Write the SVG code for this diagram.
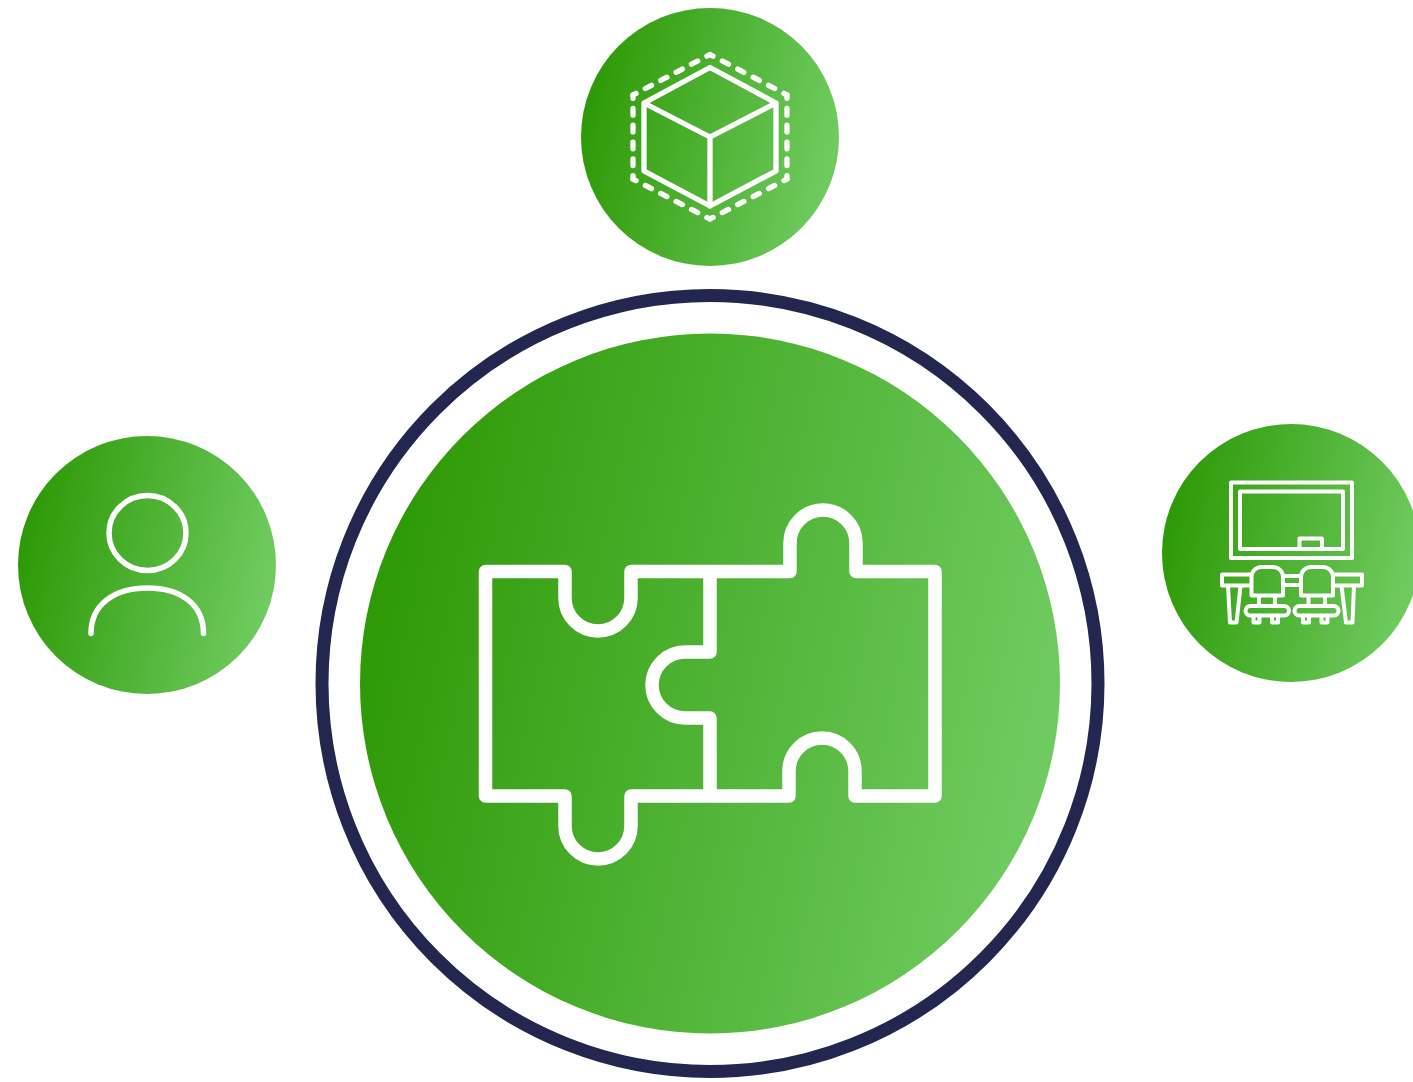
<svg xmlns="http://www.w3.org/2000/svg" width="1413" height="1082" viewBox="0 0 1413 1082">
<defs>
<linearGradient id="g" x1="0.03" y1="0.4" x2="0.97" y2="0.6"><stop offset="0" stop-color="#2f9a08"/><stop offset="1" stop-color="#6fcb60"/></linearGradient>
</defs>
<style>
.disc{fill:url(#g)}
.ic{fill:none;stroke:#fff;stroke-linejoin:round;stroke-linecap:round}
.dash{stroke-dasharray:4 6;stroke-dashoffset:2}
</style>
<rect width="1413" height="1082" fill="#fff"/>
<g id="center-node">
<circle cx="710" cy="683.500" r="388" fill="none" stroke="#23264f" stroke-width="13"/>
<circle class="disc" cx="710" cy="683.500" r="350"/>
<g class="ic" stroke-width="13.500">
<path d="M485.500 571.500H565V598a33 33 0 0 0 66 0V571.500H790V543a33 33 0 0 1 66 0V571.500H935V796H855V771a33 33 0 0 0-66 0V796H631V826a33 33 0 0 1-66 0V796H485.500Z"/>
<path d="M710 571.500V652H685a33 33 0 0 0 0 66H710V796" stroke-linecap="butt"/>
</g>
</g>
<g id="cube-node">
<circle class="disc" cx="710" cy="137" r="129"/>
<g class="ic" stroke-width="5.300">
<path d="M710 67.500L776 103V171L710 206L644 171V103ZM644 103L710 137L776 103M710 137V206"/>
<path class="dash" pathLength="50" d="M710 54.500L787 95"/>
<path class="dash" pathLength="50" d="M787 95V179"/>
<path class="dash" pathLength="50" d="M787 179L710 219"/>
<path class="dash" pathLength="50" d="M710 219L633 179"/>
<path class="dash" pathLength="50" d="M633 179V95"/>
<path class="dash" pathLength="50" d="M633 95L710 54.500"/>
</g>
</g>
<g id="user-node">
<circle class="disc" cx="147" cy="565" r="129"/>
<g class="ic" stroke-width="5.500">
<ellipse cx="147.500" cy="533" rx="38.500" ry="37.500"/>
<path d="M91 633.500C91 604 115 588 147.500 588S203.500 604 203.500 633.500"/>
</g>
</g>
<g id="classroom-node">
<circle class="disc" cx="1291" cy="553" r="129"/>
<g class="ic" stroke-width="4">
<rect x="1231" y="482.500" width="121" height="75.500"/>
<rect x="1240" y="491.500" width="103" height="57.500"/>
<path d="M1299.500 549V538.500H1322V549"/>
<path d="M1251 574.500H1222V585.500H1251M1283 576H1301V585H1283M1333 574.500H1362V585.500H1333"/>
<path d="M1228 586L1230 622.500H1236.500L1240.500 586M1341.500 586L1346 622.500H1352.500L1354 586"/>
<path d="M1251.500 595.500V577a10 10 0 0 1 10-10H1273a10 10 0 0 1 10 10V595.500Z"/>
<path d="M1301 595.500V577a10 10 0 0 1 10-10H1323a10 10 0 0 1 10 10V595.500Z"/>
<path d="M1259 596V606M1275 596V606M1308.500 596V606M1325 596V606"/>
<rect x="1245.500" y="606" width="43.500" height="9.500" rx="4.750"/>
<rect x="1294.500" y="606" width="44" height="9.500" rx="4.750"/>
<path d="M1253.500 615.500V622.500H1259.500V615.500M1272 615.500V622.500H1278V615.500M1303 615.500V622.500H1309V615.500M1321.500 615.500V622.500H1327.500V615.500"/>
</g>
</g>
<g id="connectors"></g>
</svg>
